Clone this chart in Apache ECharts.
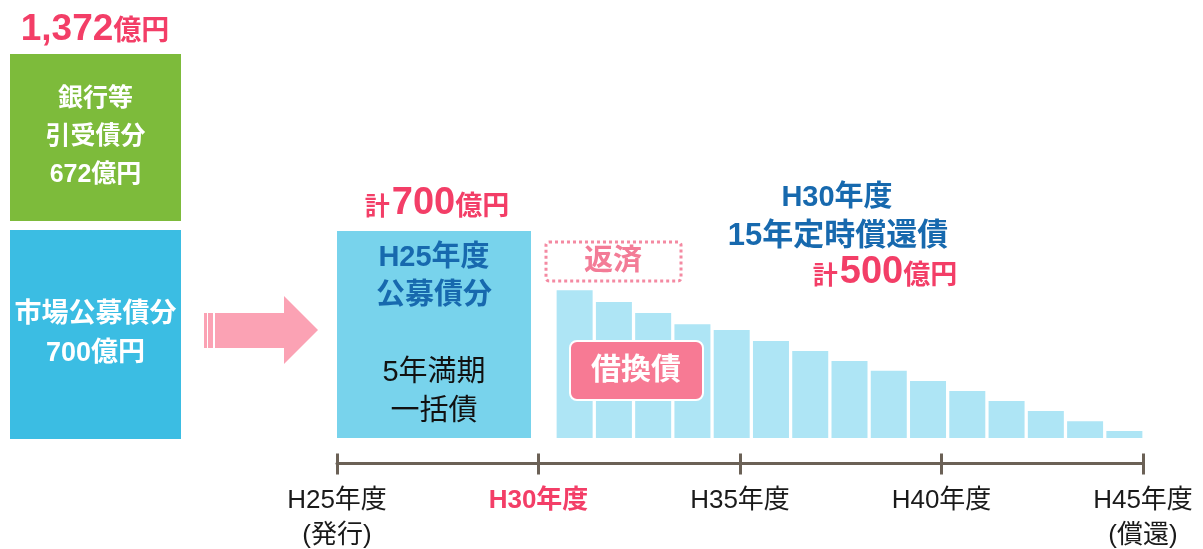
<!DOCTYPE html>
<html>
<head>
<meta charset="utf-8">
<script src="https://cdn.jsdelivr.net/npm/echarts@6/dist/echarts.min.js"></script>
<style>
html,body{margin:0;padding:0;background:#fff;}
#main{width:1203px;height:549px;}
</style>
</head>
<body>
<div id="main"></div>
<script>
// ---- data ----
const bankLabel = ['銀行等', '引受債分'];
const bankValue = [672];
const publicLabel = ['市場公募債分'];
const publicValue = [700];
const issueTitle = ['H25年度', '公募債分'];
const issueNote = ['5年満期', '一括債'];
const issueValue = [700];
const refiCategories = ['H30','H31','H32','H33','H34','H35','H36','H37','H38','H39','H40','H41','H42','H43','H44'];
const refiValues = [500, 460, 423, 385, 365, 328, 294, 260, 227, 193, 159, 125, 91, 57, 24];
const refiTitle = ['H30年度', '15年定時償還債'];
const timelineTicks = [25, 30, 35, 40, 45];
const tickLabels = ['H25年度\n(発行)', 'H30年度', 'H35年度', 'H40年度', 'H45年度\n(償還)'];
const highlightTick = 30;

// ---- styles ----
const FF = '"Liberation Sans", Arial, "Noto Sans CJK JP", sans-serif';
const PINK = '#f33e67';
const BLUE_TXT = '#1769ae';

const total = bankValue[0] + publicValue[0];
const fmt = v => v.toLocaleString('en-US');

const chart = echarts.init(document.getElementById('main'), null, {renderer: 'canvas'});

function hiddenY(gi, max) {
  return {type: 'value', gridIndex: gi, min: 0, max: max, show: false};
}
function hiddenXCat(gi, data) {
  return {type: 'category', gridIndex: gi, data: data, show: false};
}
function sumRich() {
  return {
    k: {fontSize: 25, fontWeight: 'bold', fontFamily: FF, fill: PINK, verticalAlign: 'bottom', padding: [0, 2, 2, 0]},
    n: {fontSize: 38, fontWeight: 'bold', fontFamily: FF, fill: PINK, verticalAlign: 'bottom'},
    u: {fontSize: 27, fontWeight: 'bold', fontFamily: FF, fill: PINK, verticalAlign: 'bottom', padding: [0, 0, 2, 0]}
  };
}

const option = {
  animation: false,
  grid: [
    {left: 10, width: 171, top: 54, height: 167},     // bank
    {left: 10, width: 171, top: 230, height: 209},    // public
    {left: 337, width: 194, top: 231, height: 207},   // H25 issue
    {left: 555, width: 589, top: 231, height: 207},   // refinancing bars
    {left: 337, width: 806, top: 463, height: 1}      // timeline
  ],
  xAxis: [
    hiddenXCat(0, ['bank']),
    hiddenXCat(1, ['public']),
    hiddenXCat(2, ['H25']),
    hiddenXCat(3, refiCategories),
    {
      type: 'value', gridIndex: 4, min: 25, max: 45, interval: 5, position: 'bottom',
      axisLine: {show: true, lineStyle: {color: '#6b6156', width: 3}},
      axisTick: {show: true, length: 11, lineStyle: {color: '#6b6156', width: 3}},
      splitLine: {show: false},
      axisLabel: {
        show: true, margin: 20, showMinLabel: true, showMaxLabel: true,
        formatter: function (v) {
          const i = timelineTicks.indexOf(v);
          if (i < 0) return '';
          const style = v === highlightTick ? 'h' : 'n';
          return tickLabels[i].split('\n').map(s => '{' + style + '|' + s + '}').join('\n');
        },
        rich: {
          n: {fontSize: 26, fontFamily: FF, color: '#1a1a1a', lineHeight: 35},
          h: {fontSize: 26, fontFamily: FF, fontWeight: 'bold', color: PINK, lineHeight: 35}
        }
      }
    },
    {
      type: 'value', gridIndex: 4, min: 25, max: 45, interval: 5, position: 'bottom',
      axisLine: {show: false},
      axisTick: {show: true, inside: true, length: 10, lineStyle: {color: '#6b6156', width: 3}},
      axisLabel: {show: false}, splitLine: {show: false}
    }
  ],
  yAxis: [
    hiddenY(0, bankValue[0]),
    hiddenY(1, publicValue[0]),
    hiddenY(2, 700),
    hiddenY(3, 700),
    hiddenY(4, 1)
  ],
  series: [
    {
      type: 'bar', xAxisIndex: 0, yAxisIndex: 0, data: bankValue, barWidth: 171,
      itemStyle: {color: '#7dbb3b'},
      label: {
        show: true, position: 'inside',
        formatter: () => bankLabel.concat([fmt(bankValue[0]) + '億円']).map(s => '{w|' + s + '}').join('\n'),
        rich: {w: {fontSize: 25, fontWeight: 'bold', fontFamily: FF, color: '#fff', lineHeight: 38}}
      }
    },
    {
      type: 'bar', xAxisIndex: 1, yAxisIndex: 1, data: publicValue, barWidth: 171,
      itemStyle: {color: '#3bbde3'},
      label: {
        show: true, position: 'inside',
        formatter: () => publicLabel.concat([fmt(publicValue[0]) + '億円']).map(s => '{w|' + s + '}').join('\n'),
        rich: {w: {fontSize: 27, fontWeight: 'bold', fontFamily: FF, color: '#fff', lineHeight: 39}}
      }
    },
    {
      type: 'bar', xAxisIndex: 2, yAxisIndex: 2, data: issueValue, barWidth: 194,
      itemStyle: {color: '#78d3ec'},
      label: {
        show: true, position: 'inside',
        formatter: () => issueTitle.map(s => '{b|' + s + '}').concat(['{k| }']).concat(issueNote.map(s => '{k|' + s + '}')).join('\n'),
        rich: {
          b: {fontSize: 29, fontWeight: 'bold', fontFamily: FF, color: BLUE_TXT, lineHeight: 38.5},
          k: {fontSize: 29, fontFamily: FF, color: '#111', lineHeight: 38.5}
        }
      }
    },
    {
      type: 'bar', xAxisIndex: 3, yAxisIndex: 3, data: refiValues, barWidth: 36,
      itemStyle: {color: '#aee5f5'}
    }
  ],
  graphic: [
    // total above left column
    {
      type: 'text', x: 95, y: 30,
      style: {
        text: '{n|' + fmt(total) + '}{u|億円}', textAlign: 'center', textVerticalAlign: 'middle',
        rich: {
          n: {fontSize: 37, fontWeight: 'bold', fontFamily: FF, fill: PINK, verticalAlign: 'bottom'},
          u: {fontSize: 28, fontWeight: 'bold', fontFamily: FF, fill: PINK, verticalAlign: 'bottom', padding: [0, 0, 2, 0]}
        }
      }
    },
    // arrow
    {type: 'rect', shape: {x: 204, y: 313, width: 3, height: 35}, style: {fill: '#fba2b4'}},
    {type: 'rect', shape: {x: 208, y: 313, width: 5, height: 35}, style: {fill: '#fba2b4'}},
    {type: 'rect', shape: {x: 215, y: 313, width: 70, height: 35}, style: {fill: '#fba2b4'}},
    {type: 'polygon', shape: {points: [[284, 296], [318, 330], [284, 364]]}, style: {fill: '#fba2b4'}},
    // 計700億円
    {
      type: 'text', x: 437, y: 204,
      style: {
        text: '{k|計}{n|' + fmt(issueValue[0]) + '}{u|億円}', textAlign: 'center', textVerticalAlign: 'middle',
        rich: sumRich()
      }
    },
    // 返済 dotted box
    {
      type: 'rect', shape: {x: 546, y: 242, width: 135, height: 39, r: 3},
      style: {fill: 'none', stroke: '#f48aa2', lineWidth: 3, lineDash: [3, 3]}
    },
    {
      type: 'text', x: 613, y: 262,
      style: {text: '返済', textAlign: 'center', textVerticalAlign: 'middle', fontSize: 29, fontWeight: 'bold', fontFamily: FF, fill: '#f37c97'}
    },
    // 借換債 box
    {
      type: 'rect', shape: {x: 570, y: 341, width: 133, height: 59, r: 7},
      style: {fill: '#f77a94', stroke: '#fff', lineWidth: 2}, z: 100
    },
    {
      type: 'text', x: 636, y: 371, z: 101,
      style: {text: '借換債', textAlign: 'center', textVerticalAlign: 'middle', fontSize: 30, fontWeight: 'bold', fontFamily: FF, fill: '#fff'}
    },
    // H30 title
    {
      type: 'text', x: 837, y: 198,
      style: {text: refiTitle[0], textAlign: 'center', textVerticalAlign: 'middle', fontSize: 29, fontWeight: 'bold', fontFamily: FF, fill: BLUE_TXT}
    },
    {
      type: 'text', x: 838, y: 236,
      style: {text: refiTitle[1], textAlign: 'center', textVerticalAlign: 'middle', fontSize: 31, fontWeight: 'bold', fontFamily: FF, fill: BLUE_TXT}
    },
    {
      type: 'text', x: 885, y: 273,
      style: {
        text: '{k|計}{n|' + fmt(refiValues[0]) + '}{u|億円}', textAlign: 'center', textVerticalAlign: 'middle',
        rich: sumRich()
      }
    }
  ]
};
chart.setOption(option);
</script>
</body>
</html>
